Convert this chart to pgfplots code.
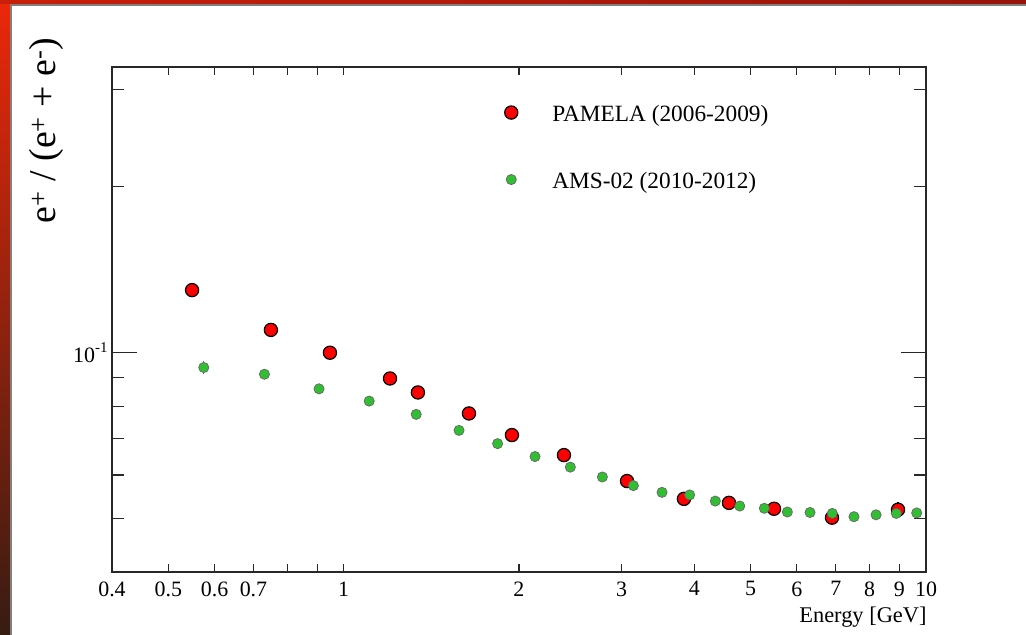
\documentclass[border=0pt]{standalone}
\usepackage{fontspec}
\setmainfont{Liberation Serif}
\usepackage{pgfplots}
\usepackage{pgfplotstable}
\pgfplotsset{compat=1.18}
\definecolor{pamred}{RGB}{255,0,0}
\definecolor{amsgreen}{RGB}{50,190,50}
\definecolor{frame}{RGB}{40,40,40}

\pgfplotstableread{
E v
0.549 0.1299
0.750 0.1100
0.947 0.1000
1.201 0.0898
1.341 0.0847
1.641 0.0776
1.945 0.0709
2.389 0.0652
3.066 0.0585
3.840 0.0543
4.588 0.0534
5.483 0.0521
6.896 0.0502
8.953 0.0519
}\pamela

\pgfplotstableread{
E v
0.575 0.0940
0.731 0.0914
0.907 0.0860
1.106 0.0817
1.332 0.0773
1.578 0.0723
1.838 0.0684
2.131 0.0648
2.450 0.0620
2.781 0.0595
3.144 0.0574
3.521 0.0558
3.928 0.0552
4.347 0.0538
4.787 0.0527
5.277 0.0522
5.779 0.0514
6.322 0.0513
6.904 0.0511
7.522 0.0504
8.208 0.0508
8.892 0.0511
9.639 0.0512
}\ams

\begin{document}
\begin{tikzpicture}
\useasboundingbox (0bp,0bp) rectangle (1026bp,635bp);
\fill[white] (0bp,0bp) rectangle (1026bp,635bp);
\shade[top color={rgb,255:red,235;green,40;blue,10}, middle color={rgb,255:red,190;green,20;blue,5}, bottom color={rgb,255:red,55;green,28;blue,18}] (0bp,0bp) rectangle (10bp,635bp);
\shade[left color={rgb,255:red,200;green,30;blue,10}, right color={rgb,255:red,150;green,20;blue,10}] (0bp,631bp) rectangle (1026bp,635bp);
\draw[gray, line width=1.5bp] (10.8bp,0bp) -- (10.8bp,630.2bp) -- (1026bp,630.2bp);
\begin{axis}[
  at={(112bp,63bp)}, anchor=south west, scale only axis,
  width=814bp, height=505bp,
  xmode=log, ymode=log,
  xmin=0.4, xmax=10, ymin=0.04, ymax=0.33,
  axis line style={frame, line width=1.2bp},
  tick style={frame, line width=1.1bp},
  tick align=inside,
  xtick={0.4,0.5,0.6,0.7,1,2,3,4,5,6,7,8,9,10},
  xticklabels={0.4,0.5,0.6,0.7,1,2,3,4,5,6,7,8,9,10},
  minor xtick={0.8,0.9},
  extra x ticks={1,10},
  extra x tick labels={},
  extra x tick style={major tick length=15bp},
  x tick style={/pgfplots/major tick length=8bp,/pgfplots/minor tick length=8bp},
  ytick={0.1},
  yticklabels={10\raisebox{0.42em}{\fontsize{15}{15}\selectfont -1}},
  minor ytick={0.04,0.05,0.06,0.07,0.08,0.09,0.2,0.3},
  y tick style={/pgfplots/major tick length=25bp,/pgfplots/minor tick length=12.5bp},
  /pgf/number format/assume math mode=true,
  tick label style={font=\fontsize{22}{26}\selectfont},
  xticklabel style={yshift=-6bp},
  yticklabel style={xshift=-1bp},
  xlabel={Energy [GeV]},
  xlabel style={font=\fontsize{22.5}{27}\selectfont, at={(axis description cs:1.005,-0.099)}, anchor=base east},
  ylabel={e\textsuperscript{+} / (e\textsuperscript{+} + e\textsuperscript{-})},
  ylabel style={font=\fontsize{38}{44}\selectfont, at={(axis description cs:-0.0688,1.065)}, anchor=base east},
  legend style={draw=none, fill=none, at={(axis description cs:0.4743,0.929)}, anchor=north west,
    row sep=46bp, font=\fontsize{23.4}{28}\selectfont,
    nodes={inner sep=0pt, text height=16bp, text depth=5bp}},
  legend cell align=left,
  legend image code/.code={\path[draw=none,fill=none] (-10bp,3bp) -- (41bp,3bp); \draw[#1] plot coordinates {(0bp,3bp)};},
  clip=false,
]
% error bars
\addplot[black, line width=1.2bp, forget plot] coordinates {(5.483,0.0508) (5.483,0.0534)};
\addplot[black, line width=1.2bp, forget plot] coordinates {(6.896,0.0490) (6.896,0.0514)};
\addplot[black, line width=1.2bp, forget plot] coordinates {(8.953,0.0503) (8.953,0.0536)};
\addplot[black!60, line width=1bp, forget plot] coordinates {(0.575,0.0915) (0.575,0.0965)};
\addplot[only marks, mark=*, mark size=6.6bp,
  mark options={fill=pamred, draw=black, line width=1.2bp}]
  table[x=E, y=v] {\pamela};
\addlegendentry{PAMELA (2006-2009)}
\addplot[only marks, mark=*, mark size=5.1bp,
  mark options={fill=amsgreen, draw=black!60, line width=0.7bp}]
  table[x=E, y=v] {\ams};
\addlegendentry{AMS-02 (2010-2012)}
\end{axis}
\end{tikzpicture}
\end{document}
